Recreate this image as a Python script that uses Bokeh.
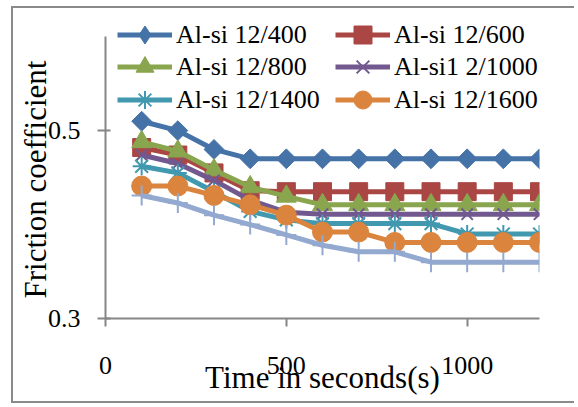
from bokeh.plotting import figure
from bokeh.models import Range1d, FixedTicker, Legend, LegendItem, Title
from bokeh.embed import file_html
from bokeh.resources import INLINE

# ---- data ----
time_s = [100, 200, 300, 400, 500, 600, 700, 800, 900, 1000, 1100, 1200]
s_400 = [0.51, 0.50, 0.48, 0.47, 0.47, 0.47, 0.47, 0.47, 0.47, 0.47, 0.47, 0.47]
s_600 = [0.482, 0.474, 0.455, 0.436, 0.435, 0.435, 0.435, 0.435, 0.435, 0.435, 0.435, 0.435]
s_800 = [0.488, 0.478, 0.458, 0.440, 0.430, 0.421, 0.421, 0.421, 0.421, 0.421, 0.421, 0.421]
s_1000 = [0.474, 0.465, 0.447, 0.426, 0.413, 0.411, 0.411, 0.411, 0.411, 0.411, 0.411, 0.411]
s_1400 = [0.462, 0.455, 0.435, 0.414, 0.405, 0.401, 0.401, 0.401, 0.401, 0.390, 0.390, 0.390]
s_1600 = [0.441, 0.441, 0.431, 0.421, 0.410, 0.392, 0.392, 0.381, 0.381, 0.381, 0.381, 0.381]
s_extra = [0.431, 0.423, 0.410, 0.400, 0.389, 0.378, 0.371, 0.371, 0.360, 0.360, 0.360, 0.360]

labels = ["Al-si 12/400", "Al-si 12/600", "Al-si 12/800", "Al-si1 2/1000",
          "Al-si 12/1400", "Al-si 12/1600"]
x_ticks = [0, 500, 1000]
y_ticks = [0.3, 0.5]

FONT = "Liberation Serif"
W, H = 563, 397

p = figure(width=W, height=H, output_backend="svg", toolbar_location=None,
           x_range=Range1d(0, 1200), y_range=Range1d(0.3, 0.63),
           min_border_left=92, min_border_right=37, min_border_top=0,
           min_border_bottom=87)
p.styles = {"margin-left": "11px", "margin-top": "6px",
            "border-left": "2px solid #8a8a8a", "border-top": "2px solid #8a8a8a",
            "border-bottom": "2px solid #8a8a8a"}
p.grid.visible = False
p.outline_line_color = None

for ax in (p.xaxis[0], p.yaxis[0]):
    ax.axis_line_color = "#868686"
    ax.axis_line_width = 2
    ax.major_tick_line_color = "#868686"
    ax.major_tick_line_width = 2
    ax.minor_tick_line_color = None
    ax.major_label_text_font = FONT
    ax.major_label_text_font_size = "26px"
    ax.major_label_text_color = "black"
    ax.axis_label_text_font = FONT
    ax.axis_label_text_font_size = "31px"
    ax.axis_label_text_font_style = "normal"
    ax.axis_label_text_color = "black"

p.xaxis.ticker = FixedTicker(ticks=x_ticks)
p.yaxis.ticker = FixedTicker(ticks=y_ticks)
p.yaxis.bounds = (0.3, 0.6)
p.xaxis.major_tick_out = 8
p.xaxis.major_tick_in = 0
p.yaxis.major_tick_out = 8
p.yaxis.major_tick_in = 5
p.xaxis.major_label_standoff = 30
p.yaxis.major_label_standoff = 17
p.xaxis.axis_label = "Time in seconds(s)"
p.xaxis.axis_label_standoff = -17

# y-axis title, placed so that it sits lower than the (extended) frame centre
p.add_layout(Title(text="Friction coefficient", align="left", offset=20,
                   vertical_align="bottom", standoff=-16, text_font=FONT,
                   text_font_size="31px", text_font_style="normal",
                   text_color="black"), "left")

series = [
    (s_400, "#4572A7", dict(marker="square", size=14, angle=0.7854)),
    (s_600, "#AA4643", dict(marker="square", size=18)),
    (s_800, "#89A54E", dict(marker="triangle", size=20)),
    (s_1000, "#71588F", dict(marker="x", size=16, line_width=2)),
    (s_1400, "#4198AF", dict(marker="asterisk", size=18, line_width=2)),
    (s_1600, "#DB843D", dict(marker="circle", size=20)),
    (s_extra, "#93A9CF", dict(marker="cross", size=20, line_width=2)),
]

items = []
for i, (vals, col, mk) in enumerate(series):
    ln = p.line(time_s, vals, line_color=col, line_width=5)
    sc = p.scatter(time_s, vals, fill_color=col, line_color=col, **mk)
    if i < len(labels):
        rs = [ln, sc]
        if i == 0:
            # legend swatch: a diamond (the rotated square is not turned in legends)
            sw = p.scatter(time_s, vals, marker="diamond", fill_color=col,
                           line_color=col, visible=False)
            rs = [ln, sw]
        items.append(LegendItem(label=labels[i], renderers=rs))

common = dict(glyph_width=55, glyph_height=45, label_height=45, spacing=0,
              padding=0, margin=0, label_standoff=4, label_text_font=FONT,
              label_text_font_size="26px", label_text_color="black",
              background_fill_alpha=0, border_line_color=None)
col_x = [12, 230]
row_y = [261, 229, 196]
for k, it in enumerate(items):
    r, c = divmod(k, 2)
    p.add_layout(Legend(items=[it], location=(col_x[c], row_y[r]), **common))

open("out.html", "w").write(file_html(p, INLINE))
